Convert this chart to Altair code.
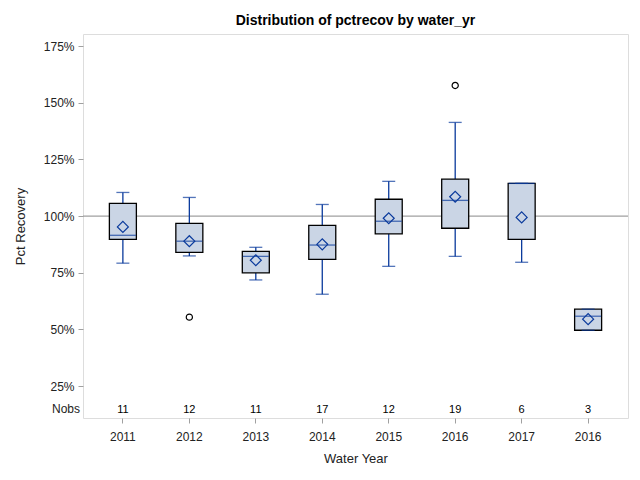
import altair as alt
import pandas as pd

# ---- data ----
keys = ["2011", "2012", "2013", "2014", "2015", "2016", "2017", "2016b"]
q1 = [89.7, 84.0, 74.9, 80.9, 92.1, 94.6, 89.7, 49.6]
median = [91.5, 88.9, 82.2, 87.2, 97.7, 106.9, 114.4, 55.8]
q3 = [105.6, 96.8, 84.4, 95.9, 107.4, 116.3, 114.4, 58.9]
whisker_lo = [79.2, 82.4, 71.8, 65.5, 77.8, 82.2, 79.6, 49.6]
whisker_hi = [110.4, 108.2, 86.2, 105.1, 115.3, 141.3, 114.4, 58.9]
mean = [95.2, 88.9, 80.5, 87.5, 99.0, 108.5, 99.4, 54.5]
nobs = [11, 12, 11, 17, 12, 19, 6, 3]
outlier_keys = ["2012", "2016"]
outlier_vals = [55.4, 157.6]
ref_value = [100]
y_ticks = [25, 50, 75, 100, 125, 150, 175]

df = pd.DataFrame({
    "yr": keys, "q1": q1, "median": median, "q3": q3,
    "lo": whisker_lo, "hi": whisker_hi, "mean": mean, "nobs": nobs,
})
out_df = pd.DataFrame({"yr": outlier_keys, "v": outlier_vals})
ref_df = pd.DataFrame({"v": ref_value})

BLUE = "#0A3A9C"
FILL = "#CAD5E5"
GRAY = "#A0A0A0"
FONT = "Liberation Sans"

xscale = alt.Scale(domain=keys, paddingInner=0, paddingOuter=0.1)
yscale = alt.Scale(domain=[10.9, 180.3], nice=False, zero=False)

x_axis = alt.Axis(
    title="Water Year", labelExpr="replace(datum.label, 'b', '')", labelAngle=0,
    labelFontSize=12, titleFontSize=13, labelColor="#222222", titleColor="#222222",
    domain=False, ticks=True, tickColor=GRAY, tickSize=5, labelPadding=8,
    titlePadding=10, titleFontWeight="normal",
)
y_axis = alt.Axis(
    title="Pct Recovery", values=y_ticks, labelExpr="datum.value + '%'",
    labelFontSize=12, titleFontSize=13, labelColor="#222222", titleColor="#222222",
    domain=False, grid=False, tickColor=GRAY, tickSize=5, labelPadding=4,
    titlePadding=16, titleFontWeight="normal",
)

X = alt.X("yr:N", scale=xscale, axis=x_axis, sort=keys)
Xn = alt.X("yr:N", scale=xscale, sort=keys)

base = alt.Chart(df)

ref = alt.Chart(ref_df).mark_rule(color=GRAY, strokeWidth=1.2).encode(
    y=alt.Y("v:Q", scale=yscale, axis=y_axis)
)

whisk_lo = base.mark_rule(color=BLUE, strokeWidth=1.3).encode(
    x=X, y=alt.Y("lo:Q", scale=yscale), y2="q1:Q"
)
whisk_hi = base.mark_rule(color=BLUE, strokeWidth=1.3).encode(
    x=Xn, y=alt.Y("q3:Q", scale=yscale), y2="hi:Q"
)
box = base.mark_bar(size=27, fill=FILL, stroke="black", strokeWidth=1.3).encode(
    x=Xn, y=alt.Y("q1:Q", scale=yscale), y2="q3:Q"
)
cap_lo = base.mark_tick(size=13, thickness=1.3, color=BLUE, orient="horizontal").encode(
    x=Xn, y=alt.Y("lo:Q", scale=yscale)
)
cap_hi = base.mark_tick(size=13, thickness=1.3, color=BLUE, orient="horizontal").encode(
    x=Xn, y=alt.Y("hi:Q", scale=yscale)
)
med = base.mark_tick(size=26, thickness=1.3, color=BLUE, orient="horizontal").encode(
    x=Xn, y=alt.Y("median:Q", scale=yscale)
)
mean_pt = base.mark_point(shape="diamond", size=120, filled=False, color=BLUE,
                          strokeWidth=1.2, opacity=1).encode(
    x=Xn, y=alt.Y("mean:Q", scale=yscale)
)
outl = alt.Chart(out_df).mark_point(shape="circle", size=38, filled=False,
                                    color="black", strokeWidth=1.2, opacity=1).encode(
    x=Xn, y=alt.Y("v:Q", scale=yscale)
)
nobs_txt = base.mark_text(fontSize=11, font=FONT, color="black", baseline="middle").encode(
    x=Xn, y=alt.value(376), text="nobs:Q"
)
nobs_lbl = alt.Chart(pd.DataFrame({"t": ["Nobs"]})).mark_text(
    fontSize=12, font=FONT, color="#222222", align="right", baseline="middle"
).encode(x=alt.value(-3), y=alt.value(375), text="t:N")

chart = alt.layer(
    ref, whisk_lo, whisk_hi, box, cap_lo, cap_hi, med, mean_pt, outl, nobs_txt, nobs_lbl
).properties(
    width=545, height=384,
    title=alt.TitleParams("Distribution of pctrecov by water_yr", fontSize=14,
                          font=FONT, fontWeight="bold", anchor="middle", offset=6,
                          color="black"),
    autosize=alt.AutoSizeParams(type="none"),
    padding={"left": 75, "top": 26, "right": 4, "bottom": 54},
).configure_view(
    stroke=GRAY, strokeWidth=1
).configure(
    font=FONT
)

chart.save("out.html", embed_options={"renderer": "svg", "actions": False})
